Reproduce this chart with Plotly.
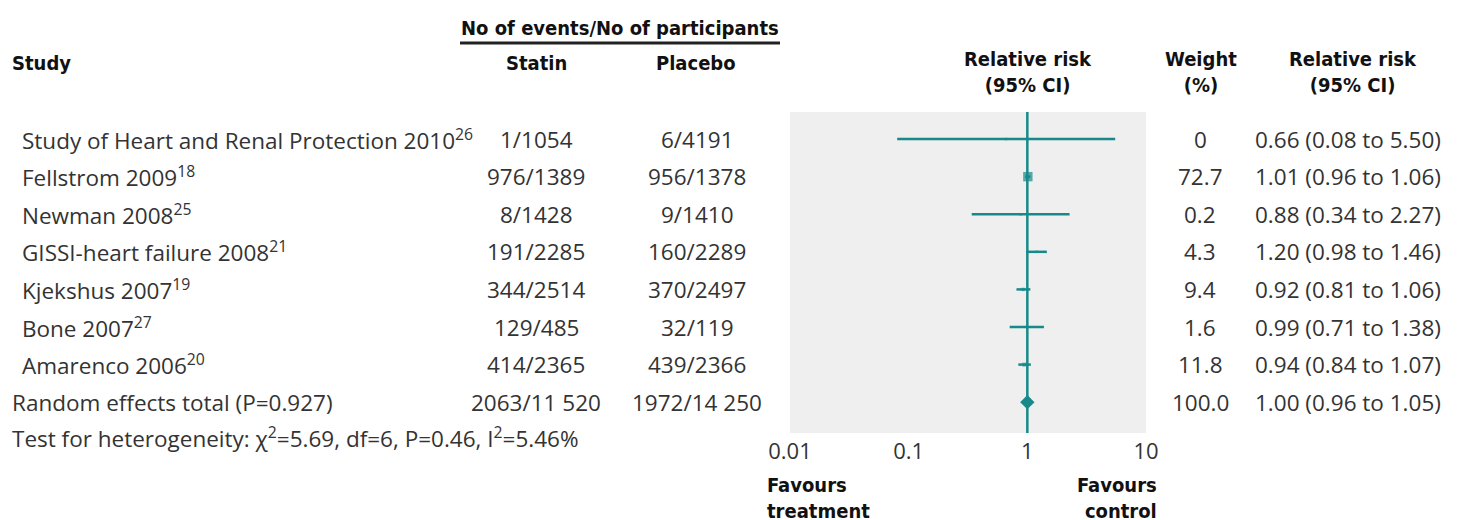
import plotly.graph_objects as go

# ---- data -----------------------------------------------------------------
studies = [
    "Study of Heart and Renal Protection 2010",
    "Fellstrom 2009",
    "Newman 2008",
    "GISSI-heart failure 2008",
    "Kjekshus 2007",
    "Bone 2007",
    "Amarenco 2006",
]
refs = ["26", "18", "25", "21", "19", "27", "20"]
statin = ["1/1054", "976/1389", "8/1428", "191/2285", "344/2514", "129/485", "414/2365"]
placebo = ["6/4191", "956/1378", "9/1410", "160/2289", "370/2497", "32/119", "439/2366"]
weights = [0, 72.7, 0.2, 4.3, 9.4, 1.6, 11.8]
rr = [0.66, 1.01, 0.88, 1.20, 0.92, 0.99, 0.94]
lo = [0.08, 0.96, 0.34, 0.98, 0.81, 0.71, 0.84]
hi = [5.50, 1.06, 2.27, 1.46, 1.06, 1.38, 1.07]

total_label = "Random effects total (P=0.927)"
total_statin = "2063/11 520"
total_placebo = "1972/14 250"
total_weight = 100.0
total_rr, total_lo, total_hi = 1.00, 0.96, 1.05

het_text = "Test for heterogeneity: χ<sup>2</sup>=5.69, df=6, P=0.46, I<sup>2</sup>=5.46%"
tick_vals = [0.01, 0.1, 1, 10]
tick_text = ["0.01", "0.1", "1", "10"]

# ---- style ----------------------------------------------------------------
W, H = 1462, 520
L, R, T, B = 790, 1146, 112, 433          # plot area in pixels
TEAL = "#17898a"
TXT = "#333333"
HEAD = "#111111"
BODY = "Open Sans, Lato, sans-serif"
BOLD = "Liberation Sans Narrow, DejaVu Sans Condensed, Roboto, sans-serif"
FS = 22.5
HS = 20
YR = [7.82, -0.72]                         # row index range (top row = 0)


def px(x):
    return (x - L) / (R - L)


def py(y):
    return (B - y) / (B - T)


n = len(studies)
rows = list(range(n))
total_row = n

fig = go.Figure()

# line of no effect
fig.add_trace(go.Scatter(x=[1, 1], y=YR, mode="lines",
                         line=dict(color=TEAL, width=2.5), hoverinfo="skip"))

# confidence intervals
cx, cy = [], []
for i in rows:
    cx += [lo[i], hi[i], None]
    cy += [i, i, None]
fig.add_trace(go.Scatter(x=cx, y=cy, mode="lines",
                         line=dict(color=TEAL, width=2.5), hoverinfo="skip"))

# point estimates, sized by weight
sizes = [max(2.5, (w ** 0.5) * 1.1) for w in weights]
fig.add_trace(go.Scatter(x=rr, y=rows, mode="markers",
                         marker=dict(symbol="square", size=sizes, color=TEAL,
                                     line=dict(width=0))))

# pooled estimate
fig.add_trace(go.Scatter(x=[total_lo, total_hi], y=[total_row, total_row], mode="lines",
                         line=dict(color=TEAL, width=2.5), hoverinfo="skip"))
fig.add_trace(go.Scatter(x=[total_rr], y=[total_row], mode="markers",
                         marker=dict(symbol="diamond", size=11, color=TEAL,
                                     line=dict(width=0))))

ann = []


def text(x, y, s, anchor="left", size=FS, font=BODY, yref="paper", bold=False,
         color=TXT, align=None):
    a = dict(x=px(x), y=(py(y) if yref == "paper" else y), xref="paper", yref=yref,
             text=(f"<b>{s}</b>" if bold else s), showarrow=False,
             xanchor=anchor, yanchor="middle",
             font=dict(family=font, size=size, color=color))
    if align:
        a["align"] = align
    ann.append(a)


# column headers
text(620, 28, "No of events/No of participants", "center", HS, BOLD, bold=True, color=HEAD)
text(10, 63, "Study", "left", HS, BOLD, bold=True, color=HEAD)
text(536, 63, "Statin", "center", HS, BOLD, bold=True, color=HEAD)
text(696, 63, "Placebo", "center", HS, BOLD, bold=True, color=HEAD)
text(1028, 72, "Relative risk<br>(95% CI)", "center", HS, BOLD, bold=True, color=HEAD)
text(1201, 72, "Weight<br>(%)", "center", HS, BOLD, bold=True, color=HEAD)
text(1353, 72, "Relative risk<br>(95% CI)", "center", HS, BOLD, bold=True, color=HEAD)

# study rows
for i in rows:
    text(20, i, f"{studies[i]}<sup>{refs[i]}</sup>", "left", yref="y")
    text(536, i, statin[i], "center", yref="y")
    text(697, i, placebo[i], "center", yref="y")
    wt = "0" if weights[i] == 0 else f"{weights[i]:.1f}"
    text(1200, i, wt, "center", yref="y")
    text(1253, i, f"{rr[i]:.2f} ({lo[i]:.2f} to {hi[i]:.2f})", "left", yref="y")

# total row
text(10, total_row, total_label, "left", yref="y")
text(536, total_row, total_statin, "center", yref="y")
text(697, total_row, total_placebo, "center", yref="y")
text(1200, total_row, f"{total_weight:.1f}", "center", yref="y")
text(1253, total_row, f"{total_rr:.2f} ({total_lo:.2f} to {total_hi:.2f})", "left", yref="y")

text(10, 437, het_text, "left")
text(765, 498, "Favours<br>treatment", "left", HS, BOLD, bold=True, color=HEAD, align="left")
text(1159, 498, "Favours<br>control", "right", HS, BOLD, bold=True, color=HEAD, align="right")

shapes = [dict(type="line", xref="paper", yref="paper",
               x0=px(460), x1=px(780), y0=py(43), y1=py(43),
               line=dict(color="#222", width=3))]

fig.update_layout(
    width=W, height=H,
    margin=dict(l=L, r=W - R, t=T, b=H - B, pad=0),
    paper_bgcolor="white", plot_bgcolor="#efefef",
    showlegend=False,
    annotations=ann, shapes=shapes,
    xaxis=dict(type="log", range=[-2, 1], tickvals=tick_vals, ticktext=tick_text,
               showgrid=False, zeroline=False, showline=False, ticks="",
               tickfont=dict(family=BODY, size=22, color=TXT), ticklabelstandoff=3,
               fixedrange=True),
    yaxis=dict(range=YR, showgrid=False, zeroline=False, showticklabels=False,
               showline=False, fixedrange=True),
)

fig.write_html("out.html")
